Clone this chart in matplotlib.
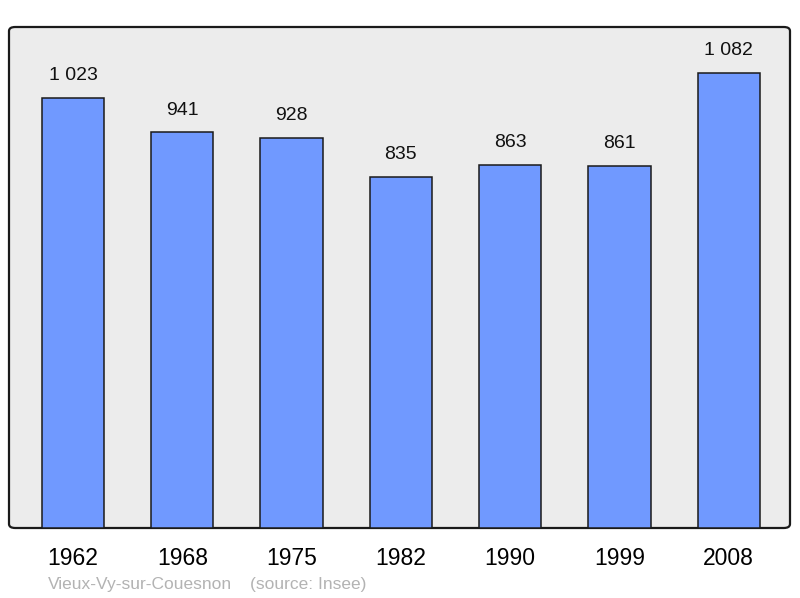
import matplotlib.pyplot as plt
from matplotlib.patches import FancyBboxPatch

plt.rcParams['font.family'] = ['Liberation Sans', 'DejaVu Sans']

years = ["1962", "1968", "1975", "1982", "1990", "1999", "2008"]
population = [1023, 941, 928, 835, 863, 861, 1082]
value_labels = ["1 023", "941", "928", "835", "863", "861", "1 082"]

fig = plt.figure(figsize=(8, 5.98), dpi=100)
ax = fig.add_axes([9 / 800, 70 / 598, 781 / 800, 501 / 598])
ax.set_facecolor("none")

# rounded gray frame behind the bars
frame = FancyBboxPatch((0, 0), 1, 1, boxstyle="round,pad=0,rounding_size=0.008",
                       transform=ax.transAxes, facecolor="#ececec",
                       edgecolor="#1a1a1a", linewidth=1.6, zorder=0, clip_on=False)
ax.add_patch(frame)

x = range(len(years))
ax.bar(x, population, width=0.57, color="#7099ff", edgecolor="#1a1a1a",
       linewidth=1.1, zorder=2)

for i, (v, lab) in enumerate(zip(population, value_labels)):
    ax.annotate(lab, (i, v), xytext=(0, 22), textcoords="offset pixels",
                ha="center", va="center", fontsize=14, color="#111111")

ax.set_xlim(-0.585, 6.56)
ax.set_ylim(0, 1191)
for s in ax.spines.values():
    s.set_visible(False)
ax.set_yticks([])
ax.set_xticks(list(x))
ax.set_xticklabels(years, fontsize=16.5)
ax.tick_params(axis="x", length=0, pad=14)

fig.text(48 / 800, 1 - 584 / 598, "Vieux-Vy-sur-Couesnon", fontsize=12.5,
         color="#b3b3b3", va="center", ha="left")
fig.text(250 / 800, 1 - 584 / 598, "(source: Insee)", fontsize=12.5,
         color="#b3b3b3", va="center", ha="left")

fig.savefig("out.png", dpi=100)
